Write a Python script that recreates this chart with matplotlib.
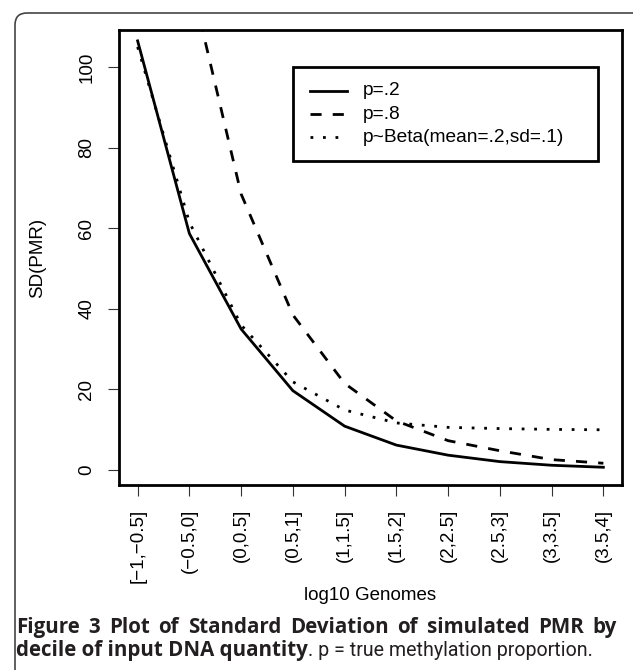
import matplotlib
matplotlib.use("Agg")
import matplotlib.pyplot as plt
import numpy as np
from matplotlib.patches import Rectangle, FancyBboxPatch
from matplotlib.lines import Line2D
from matplotlib.transforms import IdentityTransform

# decile bins of log10 genomes
bins = ["[\u22121,\u22120.5]", "(\u22120.5,0]", "(0,0.5]", "(0.5,1]", "(1,1.5]",
        "(1.5,2]", "(2,2.5]", "(2.5,3]", "(3,3.5]", "(3.5,4]"]

# SD(PMR) per decile (first p=.8 value is off the chart)
sd_p02 = [106.5, 58.7, 35.0, 19.7, 10.9, 6.2, 3.7, 2.1, 1.2, 0.7]
sd_p08 = [220.0, 123.0, 68.5, 38.5, 21.5, 12.2, 7.3, 4.8, 2.6, 1.7]
sd_beta = [105.0, 61.5, 36.0, 21.9, 14.9, 11.7, 10.6, 10.3, 10.1, 10.0]

series_labels = ["p=.2", "p=.8", "p~Beta(mean=.2,sd=.1)"]
yticks = [0, 20, 40, 60, 80, 100]

W, H = 633, 670
plt.rcParams["font.family"] = ["Liberation Sans", "DejaVu Sans"]

fig = plt.figure(figsize=(W / 100, H / 100), dpi=100)
ax = fig.add_axes([119 / W, 1 - 485 / H, 503 / W, 455 / H])

x = np.arange(1, len(bins) + 1)
styles = [dict(), dict(dashes=(4, 4)), dict(dashes=(1, 3.5))]
for vals, st in zip([sd_p02, sd_p08, sd_beta], styles):
    ax.plot(x, vals, color="black", lw=2, **st)

ax.set_xlim(0.64, 10.36)
ax.set_ylim(-3.7, 109.2)
ax.set_xticks(x, bins, rotation=90)
ax.set_yticks(yticks)
ax.tick_params(length=8, width=0.8, color="#333333", pad=9, labelsize=13.5)
ax.tick_params(axis="y", labelrotation=90)
for lab in ax.get_yticklabels():
    lab.set_va("center")
for sp in ax.spines.values():
    sp.set_linewidth(2)

ax.set_xlabel("log10 Genomes", fontsize=13.5)
ax.xaxis.label.set_va("center")
ax.xaxis.set_label_coords(0.5, (485 - 595) / 455)
ax.set_ylabel("SD(PMR)", fontsize=13.5)
ax.yaxis.label.set_va("center")
ax.yaxis.set_label_coords((38 - 119) / 503, 0.5)

# legend box drawn like R's legend()
ax.add_patch(Rectangle((0.346, 0.712), 0.606, 0.207, transform=ax.transAxes,
                       fill=False, lw=2, ec="black", zorder=5))
rows = [0.867, 0.815, 0.764]
for lbl, st, yy in zip(series_labels, styles, rows):
    ax.add_line(Line2D([0.380, 0.453], [yy, yy], transform=ax.transAxes,
                       color="black", lw=2, **st))
    ax.text(0.485, yy, lbl, transform=ax.transAxes, va="center",
            fontsize=13.8)

# outer rounded frame
fig.add_artist(FancyBboxPatch((15, -30), 700, H - 13 + 30,
                              boxstyle="round,pad=0,rounding_size=12",
                              transform=IdentityTransform(), fill=False,
                              ec="#444444", lw=1.2))

# caption: sizes fitted to the measured widths, line 1 justified
cap_col = "#231f20"
cap_font = ["Open Sans", "DejaVu Sans"]
reg_font = ["Roboto", "DejaVu Sans"]
left, right = 16, 617
y1, y2 = 1 - 633 / H, 1 - 656 / H

t2 = fig.text(left / W, y2, "decile of input DNA quantity", fontsize=12,
              fontweight="bold", family=cap_font, color=cap_col, va="baseline")
t3 = fig.text(0, y2, ". p = true methylation proportion.", fontsize=12,
              family=reg_font, color=cap_col, va="baseline")
fig.canvas.draw()
r = fig.canvas.get_renderer()
fs = 12 * (308 - left) / t2.get_window_extent(r).width
fs_reg = 12 * (592 - 308) / t3.get_window_extent(r).width
t2.set_fontsize(fs)
t3.set_fontsize(fs_reg)
fig.canvas.draw()
t3.set_x(t2.get_window_extent(r).x1 / W)

words = "Figure 3 Plot of Standard Deviation of simulated PMR by".split()
wts = []
for w in words:
    t = fig.text(0, y1, w, fontsize=fs, fontweight="bold", family=cap_font,
                 color=cap_col, va="baseline")
    wts.append(t)
fig.canvas.draw()
widths = [t.get_window_extent(r).width for t in wts]
gap = (right - left - sum(widths)) / (len(words) - 1)
xpos = left
for t, w in zip(wts, widths):
    t.set_x(xpos / W)
    xpos += w + gap

fig.savefig("out.png", dpi=100)
